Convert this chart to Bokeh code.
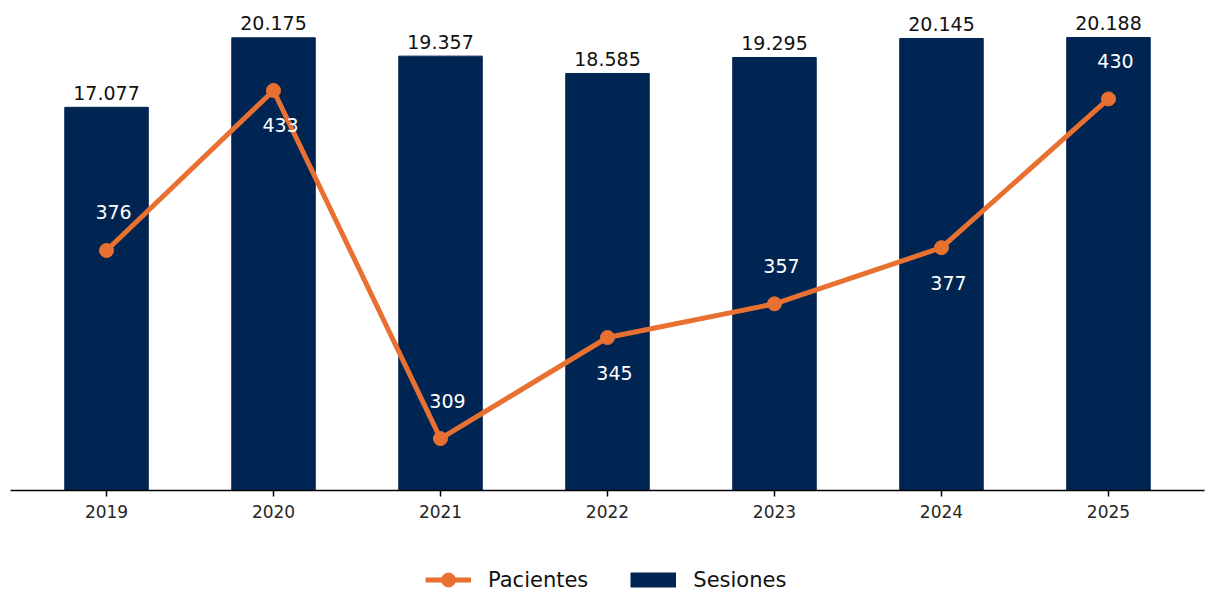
from bokeh.plotting import figure
from bokeh.layouts import column
from bokeh.models import Range1d, ColumnDataSource, Legend, LegendItem, FixedTicker
from bokeh.core.properties import value
from bokeh.embed import file_html
from bokeh.resources import INLINE

# ---- data ----
years = ["2019", "2020", "2021", "2022", "2023", "2024", "2025"]
sesiones = [17077, 20175, 19357, 18585, 19295, 20145, 20188]
pacientes = [376, 433, 309, 345, 357, 377, 430]

FONT = "DejaVu Sans"
NAVY = "#012552"
ORANGE = "#E87132"

x = list(range(len(years)))
ses_lbl = [f"{v:,}".replace(",", ".") for v in sesiones]
pac_lbl = [str(v) for v in pacientes]
pac_off = [-38 if i % 2 == 0 else 35 for i in range(len(pacientes))]

src = ColumnDataSource(dict(x=x, ses=sesiones, pac=pacientes,
                            ses_lbl=ses_lbl, pac_lbl=pac_lbl, pac_off=pac_off))

# ---- main chart ----
p = figure(width=1205, height=530, output_backend="svg", toolbar_location=None,
           x_range=Range1d(-0.575, 6.575), y_range=Range1d(0, 21480),
           y_axis_location=None,
           min_border_left=10, min_border_right=1, min_border_top=8, min_border_bottom=40)
p.extra_y_ranges = {"pac": Range1d(290.5, 462.2)}
p.grid.visible = False
p.outline_line_color = None
p.background_fill_color = "white"
p.border_fill_color = "white"

bars = p.vbar(x="x", top="ses", width=0.5, fill_color=NAVY, line_color=NAVY, source=src)
line_r = p.line(x="x", y="pac", line_width=5, line_color=ORANGE, y_range_name="pac", source=src)
circ_r = p.scatter(x="x", y="pac", size=14, fill_color=ORANGE, line_color=ORANGE,
                   y_range_name="pac", source=src)

p.text(x="x", y="ses", text="ses_lbl", source=src, text_align="center",
       text_baseline="middle", y_offset=-14.5, text_font=value(FONT),
       text_font_size="19px", text_color="#111111")
p.text(x="x", y="pac", text="pac_lbl", source=src, text_align="center",
       text_baseline="middle", x_offset=7, y_offset="pac_off", y_range_name="pac",
       text_font=value(FONT), text_font_size="19px", text_color="#FFFFFF")

ax = p.xaxis[0]
ax.ticker = FixedTicker(ticks=x)
ax.major_label_overrides = {i: y for i, y in zip(x, years)}
ax.major_label_text_font = FONT
ax.major_label_text_font_size = "17px"
ax.major_label_text_color = "#262626"
ax.major_label_standoff = 8
ax.major_tick_in = 0
ax.major_tick_out = 6
ax.minor_tick_line_color = None
ax.axis_line_color = "black"
ax.axis_line_width = 1.5
ax.major_tick_line_color = "black"
ax.major_tick_line_width = 1.5

# ---- legend strip (series drawn out of view; only their legend swatches show) ----
lf = figure(width=1205, height=63, output_backend="svg", toolbar_location=None,
            x_range=Range1d(1000, 2000), y_range=Range1d(-1e6, -1e6 + 1),
            x_axis_location=None, y_axis_location=None,
            min_border_left=0, min_border_right=0, min_border_top=0, min_border_bottom=0)
lf.grid.visible = False
lf.outline_line_color = None
lf.background_fill_color = "white"
lf.border_fill_color = "white"
lg_line = lf.line(x="x", y="pac", line_width=5, line_color=ORANGE, source=src)
lg_circ = lf.scatter(x="x", y="pac", size=14, fill_color=ORANGE, line_color=ORANGE, source=src)
lg_bar = lf.line(x="x", y="ses", line_width=15, line_color=NAVY, line_cap="butt", source=src)

legend = Legend(items=[LegendItem(label="Pacientes", renderers=[lg_line, lg_circ]),
                       LegendItem(label="Sesiones", renderers=[lg_bar])],
                orientation="horizontal", location=(415, -4),
                glyph_width=46, glyph_height=35, label_height=20,
                label_standoff=17, spacing=42, padding=0, margin=0,
                border_line_color=None, background_fill_alpha=0,
                label_text_font=FONT, label_text_font_size="21px",
                label_text_color="#111111")
lf.add_layout(legend, "center")

layout = column(p, lf, spacing=0)
open("out.html", "w").write(file_html(layout, INLINE))
